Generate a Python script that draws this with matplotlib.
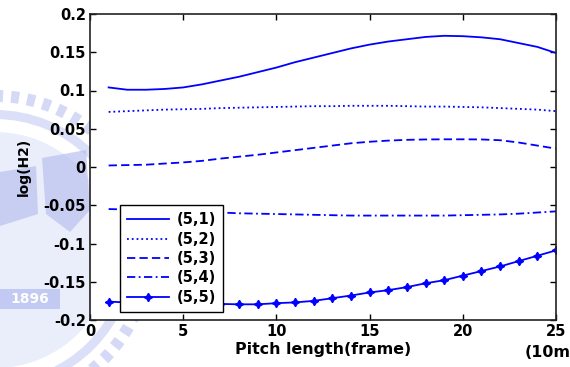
import numpy as np
from matplotlib import pyplot as plt
from matplotlib.patches import Wedge, Rectangle, Polygon

plt.rcParams['font.family'] = 'DejaVu Sans'
plt.rcParams['font.weight'] = 'bold'
plt.rcParams['axes.labelweight'] = 'bold'

# Pitch length in frames (10ms each)
frames = list(range(1, 26))

h2_51 = [0.104, 0.101, 0.101, 0.102, 0.104, 0.108, 0.113, 0.118, 0.124, 0.130,
         0.137, 0.143, 0.149, 0.155, 0.160, 0.164, 0.167, 0.170, 0.1715, 0.171,
         0.1695, 0.167, 0.162, 0.157, 0.149]
h2_52 = [0.072, 0.073, 0.074, 0.075, 0.0755, 0.076, 0.077, 0.0775, 0.078, 0.0785,
         0.079, 0.0795, 0.0795, 0.080, 0.080, 0.080, 0.0795, 0.079, 0.079, 0.0785,
         0.078, 0.077, 0.076, 0.075, 0.073]
h2_53 = [0.002, 0.0025, 0.003, 0.0045, 0.006, 0.008, 0.011, 0.0135, 0.016, 0.019,
         0.022, 0.025, 0.028, 0.031, 0.033, 0.0345, 0.0355, 0.036, 0.0362, 0.0362,
         0.036, 0.035, 0.032, 0.028, 0.024]
h2_54 = [-0.055, -0.0555, -0.056, -0.057, -0.058, -0.059, -0.0595, -0.0605, -0.061, -0.0615,
         -0.062, -0.0625, -0.063, -0.0635, -0.0635, -0.0635, -0.0635, -0.0635, -0.0635, -0.063,
         -0.0625, -0.062, -0.061, -0.0595, -0.058]
h2_55 = [-0.176, -0.177, -0.178, -0.178, -0.179, -0.179, -0.179, -0.1795, -0.1795, -0.178,
         -0.177, -0.175, -0.1715, -0.168, -0.164, -0.161, -0.157, -0.152, -0.148, -0.142,
         -0.136, -0.130, -0.123, -0.116, -0.109]

legend_labels = ['(5,1)', '(5,2)', '(5,3)', '(5,4)', '(5,5)']
xticks = [0, 5, 10, 15, 20, 25]
yticks = [-0.2, -0.15, -0.1, -0.05, 0, 0.05, 0.1, 0.15, 0.2]
ytick_labels = ['-0.2', '-0.15', '-0.1', '-0.05', '0', '0.05', '0.1', '0.15', '0.2']

fig = plt.figure(figsize=(5.7, 3.67), dpi=100)

# faint emblem in the background, in pixel units
bg = fig.add_axes([0, 0, 1, 1], zorder=-1)
bg.set_xlim(0, 570)
bg.set_ylim(367, 0)
bg.axis('off')
wm = '#b9c1f0'
cx, cy = -5, 250
for a in np.arange(0, 360, 6):
    bg.add_patch(Wedge((cx, cy), 160, a, a + 3, width=12, color=wm, alpha=0.6, lw=0))
bg.add_patch(Wedge((cx, cy), 140, 0, 360, width=9, color=wm, alpha=0.5, lw=0))
bg.add_patch(Wedge((cx, cy), 118, 0, 360, width=118, color='#dde1f8', alpha=0.6, lw=0))
bg.add_patch(Polygon([[42, 158], [86, 150], [90, 210], [70, 232], [46, 214]],
                     closed=True, color=wm, alpha=0.7, lw=0))
bg.add_patch(Polygon([[0, 172], [36, 166], [38, 214], [0, 226]],
                     closed=True, color=wm, alpha=0.7, lw=0))
bg.add_patch(Rectangle((0, 289), 60, 20, color=wm, alpha=0.8, lw=0))
bg.text(30, 299, '1896', color='white', fontsize=10, ha='center', va='center')

ax = fig.add_axes([90 / 570, 47 / 367, 466 / 570, 306 / 367])
ax.set_facecolor('white')
lw = 1.3
ax.plot(frames, h2_51, color='blue', lw=lw, label=legend_labels[0])
ax.plot(frames, h2_52, color='blue', lw=lw, ls=':', label=legend_labels[1])
ax.plot(frames, h2_53, color='blue', lw=lw, dashes=(4.6, 2.3), label=legend_labels[2])
ax.plot(frames, h2_54, color='blue', lw=lw, dashes=(4.6, 1.9, 1.0, 1.9), label=legend_labels[3])
ax.plot(frames, h2_55, color='blue', lw=lw, marker=(4, 1, 0), ms=6, label=legend_labels[4])

ax.set_xlim(0, 25)
ax.set_ylim(-0.2, 0.2)
ax.set_xticks(xticks)
ax.set_yticks(yticks)
ax.set_yticklabels(ytick_labels)
ax.tick_params(direction='in', length=4, width=1, top=True, right=True,
               labelsize=10.5, pad=3)
for s in ax.spines.values():
    s.set_linewidth(1.2)
    s.set_color('#222222')

ax.set_xlabel('Pitch length(frame)', fontsize=11.4, labelpad=2)
ax.set_ylabel('log(H2)', fontsize=10)
ax.yaxis.set_label_coords(-0.127, 0.5)
ax.text(25, -0.105, '(10ms)', transform=ax.get_xaxis_transform(),
        fontsize=11.4, ha='center', va='center')

leg = ax.legend(loc='lower left', bbox_to_anchor=(0.064, 0.026), fontsize=10.5,
                fancybox=False, framealpha=1, edgecolor='black',
                handlelength=2.9, handletextpad=0.5, labelspacing=0.3,
                borderpad=0.5, borderaxespad=0)
leg.get_frame().set_linewidth(1)

fig.savefig('out.png', dpi=100)
